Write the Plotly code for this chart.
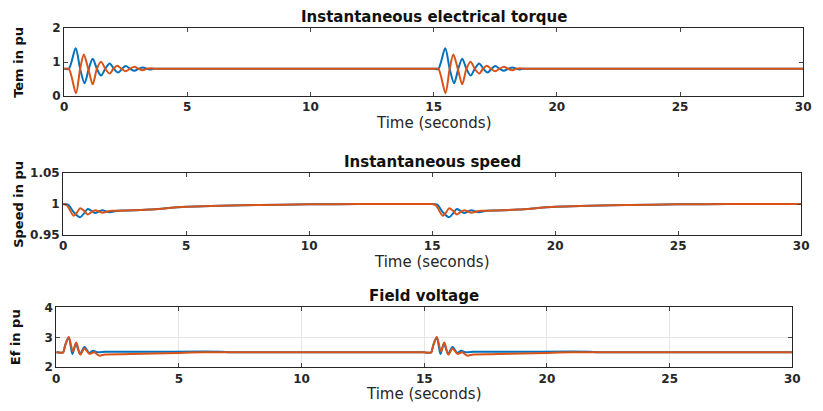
import plotly.graph_objects as go

# ---------------- data ----------------
event_starts = [0.0, 15.0]
t_end = 30.0

# Torque (time relative to each disturbance)
tq_blue_t = [0.00, 0.19, 0.47, 0.65, 0.83, 1.00, 1.16, 1.33, 1.50, 1.67, 1.85, 2.02, 2.19, 2.35, 2.50, 2.68, 2.85, 3.02, 3.20, 3.35, 3.50, 3.63, 3.90, 4.30]
tq_blue_v = [0.80, 0.80, 1.41, 0.80, 0.37, 0.80, 1.10, 0.80, 0.60, 0.80, 0.96, 0.80, 0.69, 0.80, 0.88, 0.80, 0.74, 0.80, 0.84, 0.80, 0.78, 0.80, 0.80, 0.80]
tq_orange_t = [0.00, 0.19, 0.48, 0.65, 0.80, 0.98, 1.16, 1.33, 1.50, 1.67, 1.85, 2.00, 2.16, 2.33, 2.50, 2.67, 2.85, 3.02, 3.20, 3.35, 3.50, 3.70, 3.90, 4.30]
tq_orange_v = [0.80, 0.80, 0.08, 0.80, 1.22, 0.80, 0.34, 0.80, 1.01, 0.80, 0.66, 0.80, 0.89, 0.80, 0.73, 0.80, 0.86, 0.80, 0.76, 0.80, 0.82, 0.80, 0.80, 0.80]
tq_base = 0.80

# Speed
sp_blue_t = [0.00, 0.20, 0.45, 0.69, 0.85, 1.00, 1.15, 1.31, 1.45, 1.60, 1.75, 1.90, 2.20, 2.60, 3.50, 5.0, 8.0, 10.0, 12.0, 14.99]
sp_blue_v = [1.000, 0.999, 0.986, 0.9786, 0.985, 0.992, 0.989, 0.9855, 0.988, 0.990, 0.988, 0.9868, 0.989, 0.9895, 0.991, 0.9955, 0.9985, 0.9995, 1.000, 1.000]
sp_orange_t = [0.00, 0.15, 0.43, 0.56, 0.69, 0.85, 1.00, 1.15, 1.30, 1.45, 1.60, 1.80, 2.00, 2.50, 3.50, 5.0, 8.0, 10.0, 12.0, 14.99]
sp_orange_v = [1.000, 0.998, 0.981, 0.986, 0.9933, 0.989, 0.983, 0.987, 0.990, 0.988, 0.986, 0.988, 0.989, 0.9895, 0.991, 0.9955, 0.9985, 0.9995, 1.000, 1.000]
sp_base = 1.0

# Field voltage
ef_blue_t = [0.00, 0.28, 0.36, 0.51, 0.66, 0.80, 0.97, 1.15, 1.35, 1.50, 1.70, 2.00, 2.50, 4.00, 6.80, 7.00, 7.30, 14.99]
ef_blue_v = [2.50, 2.50, 2.72, 3.00, 2.44, 2.80, 2.45, 2.68, 2.48, 2.55, 2.50, 2.52, 2.52, 2.52, 2.52, 2.50, 2.50, 2.50]
ef_orange_t = [0.00, 0.28, 0.36, 0.51, 0.68, 0.82, 0.98, 1.15, 1.35, 1.55, 1.75, 2.00, 3.00, 4.00, 5.00, 6.00, 6.50, 14.99]
ef_orange_v = [2.50, 2.50, 2.72, 3.01, 2.53, 2.83, 2.42, 2.63, 2.45, 2.50, 2.39, 2.43, 2.44, 2.46, 2.48, 2.50, 2.50, 2.50]
ef_base = 2.5

x_ticks = [0, 5, 10, 15, 20, 25, 30]
titles = ["Instantaneous electrical torque", "Instantaneous speed", "Field voltage"]
y_labels = ["Tem in pu", "Speed in pu", "Ef in pu"]
x_label = "Time (seconds)"
y_ranges = [[0, 2], [0.95, 1.05], [2, 4]]
y_ticks = [[0, 1, 2], [0.95, 1, 1.05], [2, 3, 4]]
y_ticktext = [["0", "1", "2"], ["0.95", "1", "1.05"], ["2", "3", "4"]]

BLUE = "#0072BD"
ORANGE = "#D95319"
FONT = "DejaVu Sans, Verdana, sans-serif"


def build(rel_t, rel_v, base):
    ts, vs = [], []
    for s in event_starts:
        for t, v in zip(rel_t, rel_v):
            ts.append(s + t)
            vs.append(v)
    ts.append(t_end)
    vs.append(base)
    return ts, vs


W, H = 823, 411
# pixel layout of the three panels: (left, right, top, bottom)
panels = [(61, 811, 22, 92), (60, 809, 172, 236), (53, 800, 311, 373)]

fig = go.Figure()
series = [
    (tq_blue_t, tq_blue_v, tq_orange_t, tq_orange_v, tq_base),
    (sp_blue_t, sp_blue_v, sp_orange_t, sp_orange_v, sp_base),
    (ef_blue_t, ef_blue_v, ef_orange_t, ef_orange_v, ef_base),
]
for i, (bt, bv, ot, ov, base) in enumerate(series):
    ax = "" if i == 0 else str(i + 1)
    x1, y1 = build(bt, bv, base)
    x2, y2 = build(ot, ov, base)
    fig.add_trace(go.Scatter(x=x1, y=y1, mode="lines", line=dict(color=BLUE, width=2, shape="spline", smoothing=0.8),
                             xaxis="x" + ax, yaxis="y" + ax, showlegend=False))
    fig.add_trace(go.Scatter(x=x2, y=y2, mode="lines", line=dict(color=ORANGE, width=2, shape="spline", smoothing=0.8),
                             xaxis="x" + ax, yaxis="y" + ax, showlegend=False))

layout = dict(width=W, height=H, margin=dict(l=0, r=0, t=0, b=0), plot_bgcolor="white", paper_bgcolor="white",
              font=dict(family=FONT, color="#262626"))
annotations = []
tickfont = dict(size=12, family=FONT, weight="bold", color="#262626")
for i, (l, r, t, b) in enumerate(panels):
    ax = "" if i == 0 else str(i + 1)
    grid = i == 2
    layout["xaxis" + ax] = dict(domain=[l / W, r / W], range=[0, 30], tickvals=x_ticks, ticks="inside", ticklen=4,
                                 showline=True, linecolor="#262626", linewidth=1, mirror="allticks",
                                 showgrid=grid, gridcolor="#e6e6e6", zeroline=False, anchor="y" + ax, tickfont=tickfont)
    layout["yaxis" + ax] = dict(domain=[1 - b / H, 1 - t / H], range=y_ranges[i], tickvals=y_ticks[i], ticktext=y_ticktext[i],
                                 ticks="inside", ticklen=4, showline=True, linecolor="#262626", linewidth=1, mirror="allticks",
                                 showgrid=grid, gridcolor="#e6e6e6", zeroline=False, anchor="x" + ax, tickfont=tickfont)
    annotations.append(dict(text="<b>" + titles[i] + "</b>", x=(l + r) / 2 / W, y=1 - (t - 12) / H, xref="paper", yref="paper",
                            showarrow=False, xanchor="center", yanchor="middle", font=dict(size=15, color="#111111")))
    annotations.append(dict(text=x_label, x=(l + r) / 2 / W, y=1 - (b + 28) / H, xref="paper", yref="paper",
                            showarrow=False, xanchor="center", yanchor="middle", font=dict(size=15, color="#262626")))
    annotations.append(dict(text="<b>" + y_labels[i] + "</b>", x=(14 if i < 2 else 12) / W, y=1 - (t + b) / 2 / H,
                            xref="paper", yref="paper", showarrow=False, textangle=-90, xanchor="center", yanchor="middle",
                            font=dict(size=13, color="#111111")))
layout["annotations"] = annotations
fig.update_layout(**layout)
fig.write_html("out.html")
